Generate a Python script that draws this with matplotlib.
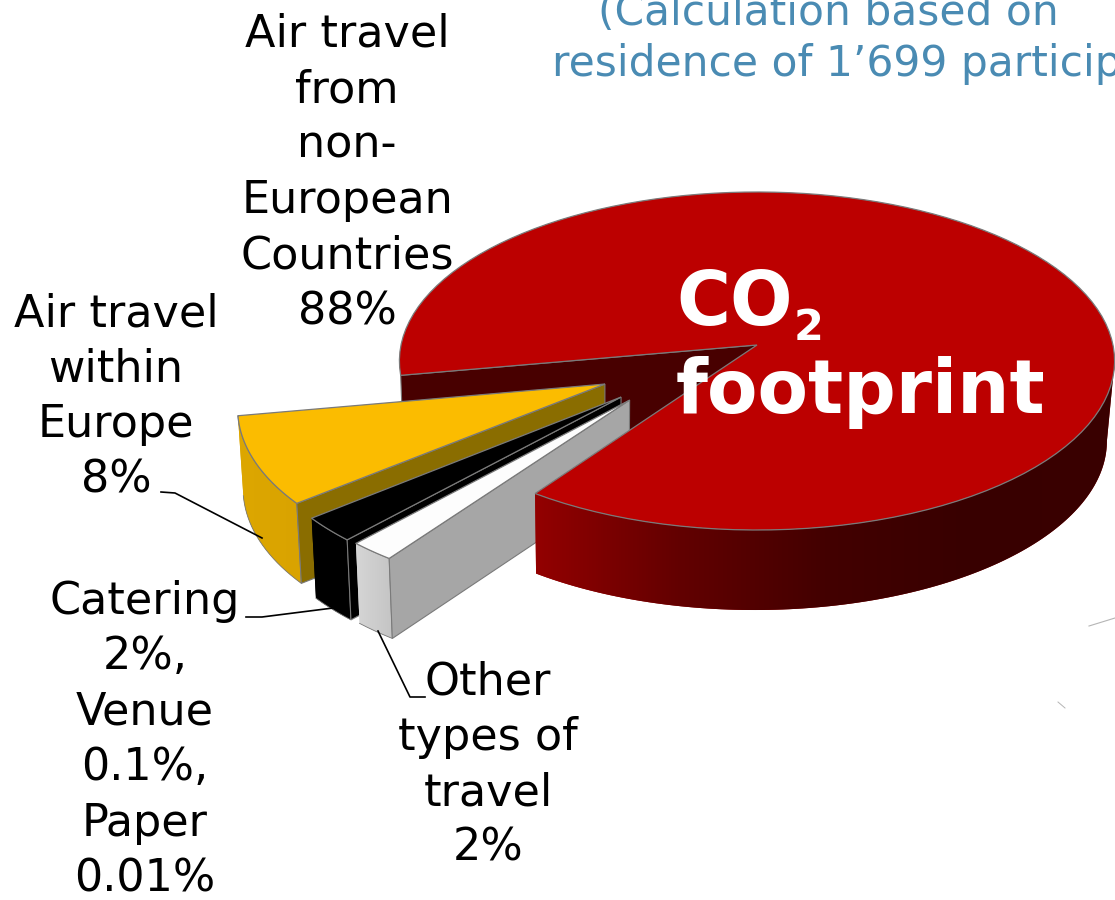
import matplotlib
matplotlib.use("Agg")
import matplotlib.pyplot as plt
from matplotlib.colors import LinearSegmentedColormap
import numpy as np

# shares in percent (labels are rounded)
slice_names = ["non-European air", "European air", "catering etc", "other travel"]
shares = [87.6, 8.2, 2.35, 1.85]

label_air_far = "Air travel\nfrom\nnon-\nEuropean\nCountries\n88%"
label_air_eu = "Air travel\nwithin\nEurope\n8%"
label_catering = "Catering\n2%,\nVenue\n0.1%,\nPaper\n0.01%"
label_other = "Other\ntypes of\ntravel\n2%"

# pie plane -> picture, a simple perspective
apex_x, apex_y = 757, 345
rx, ry, k = 356, 167.5, 0.0947
depth = 80
start_angle = 125.1

# how far each piece is pulled out, in plane units
offsets = [(0, 0), (-0.418, 0.228), (-0.371, 0.302), (-0.347, 0.319)]


def project(u, v):
    u, v = np.asarray(u, float), np.asarray(v, float)
    w = 1 - k * v
    return apex_x + rx * u / w, apex_y + ry * v / w


def lower(x, y):
    # bottom of the disc is slightly further away
    return 600 + (np.asarray(x) - 600) * 0.985, np.asarray(y) + depth


def rim(a0, a1, off, n=120):
    t = np.radians(np.linspace(a0, a1, n))
    return project(off[0] + np.cos(t), off[1] + np.sin(t))


fig = plt.figure(figsize=(11.15, 9), dpi=100)
ax = fig.add_axes([0, 0, 1, 1])
ax.set_xlim(0, 1115)
ax.set_ylim(900, 0)
ax.axis("off")
ax.set_autoscale_on(False)

edge = "#7a7a7a"


def top_face(a0, a1, off, color, z):
    xs, ys = rim(a0, a1, off)
    ax_, ay_ = project(*off)
    ax.fill(np.r_[ax_, xs], np.r_[ay_, ys], facecolor=color, edgecolor=edge, lw=0.9, zorder=z)


def cut_face(angle, off, color, z):
    x1, y1 = project(*off)
    t = np.radians(angle)
    x2, y2 = project(off[0] + np.cos(t), off[1] + np.sin(t))
    bx1, by1 = lower(x1, y1)
    bx2, by2 = lower(x2, y2)
    ax.fill([x1, x2, bx2, bx1], [y1, y2, by2, by1], facecolor=color, edgecolor=edge, lw=0.8, zorder=z)


def outer_side(a0, a1, off, colors, z, outline=True):
    # rim wall: horizontal gradient clipped to the wall outline
    xs, ys = rim(a0, a1, off)
    bx, by = lower(xs, ys)
    px, py = np.r_[xs, bx[::-1]], np.r_[ys, by[::-1]]
    patch = ax.fill(px, py, facecolor=colors[0], edgecolor="none", zorder=z)[0]
    cmap = LinearSegmentedColormap.from_list("side", colors)
    im = ax.imshow(np.linspace(0, 1, 512)[None, :], cmap=cmap, aspect="auto", zorder=z,
                   extent=[px.min(), px.max(), py.max(), py.min()])
    im.set_clip_path(patch)
    if outline:
        ax.plot(px, py, color=edge, lw=0.6, zorder=z)


# angles of every piece, going on from the red one
spans = [s / sum(shares) * 360 for s in shares]
red_end = start_angle - spans[0] + 360
yellow_end = red_end - spans[1]
black_end = yellow_end - spans[2]
white_end = black_end - spans[3]

# red: inner face first, slices go in front of it, rim and top go last
cut_face(red_end, offsets[0], "#480000", 1)

# yellow
outer_side(red_end, yellow_end, offsets[1], ["#DDA700", "#D9A300"], 2)
cut_face(yellow_end, offsets[1], "#8A6D00", 2)
top_face(red_end, yellow_end, offsets[1], "#FBBC00", 3)

# black
outer_side(yellow_end, black_end, offsets[2], ["#000000", "#000000"], 4)
cut_face(black_end, offsets[2], "#000000", 4)
top_face(yellow_end, black_end, offsets[2], "#000000", 5)

# white
outer_side(black_end, white_end, offsets[3], ["#D6D6D6", "#C4C4C4"], 6)
cut_face(white_end, offsets[3], "#A6A6A6", 6)
top_face(black_end, white_end, offsets[3], "#FDFDFD", 7)

# wall stops where the disc outline is widest, the rest is behind the top
right_limit = np.degrees(np.arcsin(k))
outer_side(start_angle, right_limit, offsets[0], ["#930000", "#620000", "#430000", "#380000", "#3A0000"], 8, outline=False)
top_face(start_angle, start_angle - spans[0], offsets[0], "#BC0000", 9)

# labels
txt = dict(color="black", fontsize=32, ha="center", va="center", linespacing=1.37, zorder=12)
ax.text(347, 173, label_air_far, **txt)
ax.text(116, 397, label_air_eu, **txt)
ax.text(145, 740, label_catering, **txt)
ax.text(488, 765, label_other, **txt)

# leader lines
ax.plot([161, 175, 262], [492, 493, 538], color="black", lw=1.2, zorder=11)
ax.plot([246, 262, 333], [617, 617, 608], color="black", lw=1.2, zorder=11)
ax.plot([378, 410, 425], [631, 697, 697], color="black", lw=1.2, zorder=11)

# text on the red face
ax.text(676, 325, "CO", color="white", fontsize=53, fontweight="bold", ha="left", va="baseline", zorder=13)
ax.text(794, 340, "2", color="white", fontsize=31, fontweight="bold", ha="left", va="baseline", zorder=13)
ax.text(676, 413, "footprint", color="white", fontsize=53, fontweight="bold", ha="left", va="baseline", zorder=13)

# heading, runs off the picture as in the source
blue = "#4A8BB3"
ax.text(828, 25, "(Calculation based on", color=blue, fontsize=30.5, ha="center", va="baseline", zorder=13)
ax.text(552, 76, "residence of 1’699 participants)", color=blue, fontsize=30.5, ha="left", va="baseline", zorder=13)

# small scan specks at the lower right
ax.plot([1089, 1115], [626, 618], color="#b5b5b5", lw=0.8, zorder=1)
ax.plot([1058, 1065], [702, 708], color="#b5b5b5", lw=0.7, zorder=1)

fig.savefig("out.png", dpi=100)
